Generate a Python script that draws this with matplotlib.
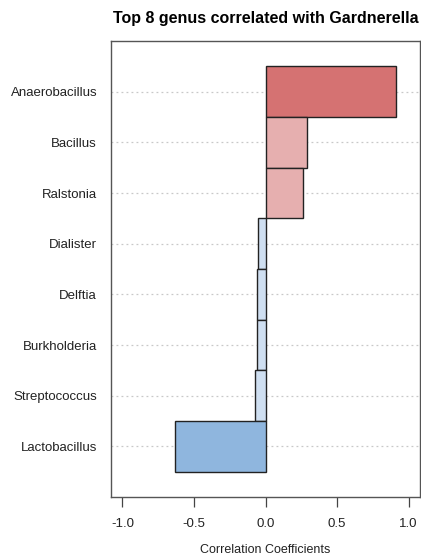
import matplotlib
matplotlib.use("Agg")
import matplotlib.pyplot as plt

plt.rcParams['font.family'] = ['Liberation Sans', 'DejaVu Sans']

# genera ordered top to bottom, with their correlation to Gardnerella
genus = ["Anaerobacillus", "Bacillus", "Ralstonia", "Dialister",
         "Delftia", "Burkholderia", "Streptococcus", "Lactobacillus"]
corr = [0.91, 0.29, 0.26, -0.055, -0.06, -0.06, -0.075, -0.635]
bar_colors = ["#d57272", "#e6afaf", "#e6afaf", "#cfdff1",
              "#cfdff1", "#cfdff1", "#cfdff1", "#8fb6de"]
xticks = [-1.0, -0.5, 0.0, 0.5, 1.0]

fig = plt.figure(figsize=(4.21, 5.57), dpi=100)
ax = fig.add_axes([111 / 421, 1 - 497 / 557, 309 / 421, 456 / 557])

# positions 8..1 so the first genus sits on top
ypos = list(range(len(genus), 0, -1))

for y in ypos:
    ax.axhline(y, color="#c8c8c8", linestyle=(0, (1.5, 2.5)), linewidth=0.9, zorder=0)

ax.barh(ypos, corr, height=1.0, color=bar_colors, edgecolor="#222222",
        linewidth=1.0, zorder=2)

ax.set_xlim(-1.08, 1.08)
ax.set_ylim(0, 9)
ax.set_xticks(xticks)
ax.set_xticklabels([f"{t:.1f}" for t in xticks])
ax.set_yticks(ypos)
ax.set_yticklabels(genus)
ax.tick_params(axis="y", length=0, pad=10, labelsize=9.5, labelcolor="#222222")
ax.tick_params(axis="x", length=7, width=0.9, color="#444444", pad=8,
               labelsize=9.5, labelcolor="#222222")

for s in ax.spines.values():
    s.set_color("#555555")
    s.set_linewidth(1.0)

ax.set_xlabel("Correlation Coefficients", fontsize=9, labelpad=10, color="#222222")
ax.set_title("Top 8 genus correlated with Gardnerella", fontsize=11.5,
              fontweight="bold", pad=13)

fig.savefig("out.png", dpi=100)
